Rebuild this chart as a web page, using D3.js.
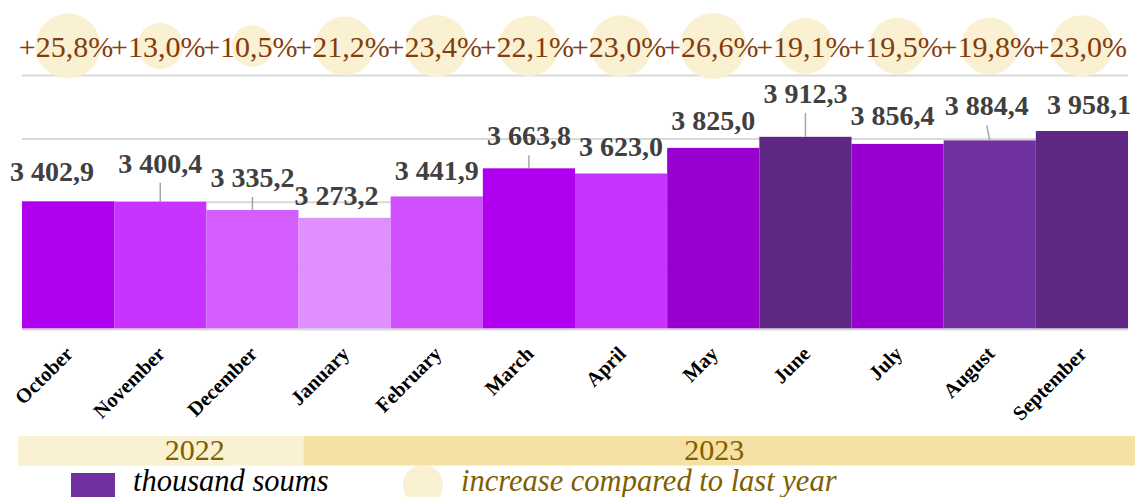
<!DOCTYPE html>
<html>
<head>
<meta charset="utf-8">
<script src="https://cdn.jsdelivr.net/npm/d3@7"></script>
<style>
  html, body { margin: 0; padding: 0; background: #ffffff; }
  svg { display: block; }
  text { font-family: "Liberation Serif", "Times New Roman", serif; }
</style>
</head>
<body>
<svg id="chart" width="1135" height="497"></svg>
<script>
// Monthly values (thousand soums), Oct 2022 – Sep 2023
const months = ["October", "November", "December", "January", "February", "March",
                "April", "May", "June", "July", "August", "September"];
const values = [3402.9, 3400.4, 3335.2, 3273.2, 3441.9, 3663.8,
                3623.0, 3825.0, 3912.3, 3856.4, 3884.4, 3958.1];
// Growth versus the same month of the previous year, %
const growth = [25.8, 13.0, 10.5, 21.2, 23.4, 22.1, 23.0, 26.6, 19.1, 19.5, 19.8, 23.0];
const gridTicks = [2400, 2900, 3400, 3900, 4400];
const yearLabels = ["2022", "2023"];
const yearFirstMonth = ["October", "January"];
const legendLabels = ["thousand soums", "increase compared to last year"];

// Styling
const barColors = ["#B000F0", "#C833FF", "#D35DFF", "#E08FFF", "#CF50FC", "#B100F0",
                   "#C833FF", "#9700CF", "#5E2784", "#9700CF", "#7030A0", "#5E2784"];
// value-label nudges: [horizontal shift, gap above bar top]
const labelOffsets = [[-16, 20], [0, 29], [0, 23], [-8, 13], [0, 16], [0, 23],
                      [0, 17], [0, 18], [0, 34], [-5, 19], [-3, 25], [7, 17]];
const yearTextShift = [34, -5];

const W = 1135, H = 497;
const plot = { left: 22, right: 1128, top: 75, bottom: 328.5 };

const locale = d3.formatLocale({ decimal: ",", thousands: "\u00a0", grouping: [3], currency: ["", ""] });
const fmtValue = locale.format(",.1f");
const fmtGrowth = locale.format("+.1f");

const svg = d3.select("#chart");

const x = d3.scaleBand().domain(months).range([plot.left, plot.right]).paddingInner(0).paddingOuter(0);
const y = d3.scaleLinear().domain([gridTicks[0], gridTicks[gridTicks.length - 1]]).range([plot.bottom, plot.top]);
const r = d3.scaleSqrt().domain([0, d3.max(growth)]).range([0, 33]);

// Horizontal gridlines
const grid = svg.append("g")
  .attr("transform", `translate(${plot.left},0)`)
  .call(d3.axisLeft(y).tickValues(gridTicks).tickSize(-(plot.right - plot.left)).tickFormat(""));
grid.select(".domain").remove();
grid.selectAll(".tick line").attr("stroke", "#D9D9D9").attr("stroke-width", 2);

// Bars
svg.append("g").selectAll("rect")
  .data(months)
  .join("rect")
  .attr("x", d => x(d))
  .attr("y", (d, i) => y(values[i]))
  .attr("width", x.bandwidth())
  .attr("height", (d, i) => y(gridTicks[0]) - y(values[i]))
  .attr("fill", (d, i) => barColors[i]);

// Baseline on top of bars
svg.append("line")
  .attr("x1", plot.left).attr("x2", plot.right)
  .attr("y1", y(gridTicks[0]) + 1).attr("y2", y(gridTicks[0]) + 1)
  .attr("stroke", "#D9D9D9").attr("stroke-width", 2);

// Value labels with leader lines where the label sits well above its bar
const vl = svg.append("g");
months.forEach((m, i) => {
  const cx = x(m) + x.bandwidth() / 2;
  const top = y(values[i]);
  const [dx, gap] = labelOffsets[i];
  const lx = cx + dx, ly = top - gap;
  if (gap > 21) {
    vl.append("line")
      .attr("x1", lx).attr("y1", ly + 10)
      .attr("x2", cx).attr("y2", top)
      .attr("stroke", "#A6A6A6").attr("stroke-width", 1.5);
  }
  vl.append("text")
    .attr("x", lx).attr("y", ly)
    .attr("text-anchor", "middle")
    .attr("font-size", 28).attr("font-weight", "bold")
    .attr("fill", "#404040")
    .text(fmtValue(values[i]));
});

// Growth bubbles and labels across the top
const bubbleY = 46;
svg.append("g").selectAll("circle")
  .data(growth)
  .join("circle")
  .attr("cx", (d, i) => x(months[i]) + x.bandwidth() / 2)
  .attr("cy", bubbleY)
  .attr("r", d => r(d))
  .attr("fill", "#FAF0D2");

svg.append("g").selectAll("text")
  .data(growth)
  .join("text")
  .attr("x", (d, i) => x(months[i]) + x.bandwidth() / 2 - 2)
  .attr("y", 56.5)
  .attr("text-anchor", "middle")
  .attr("font-size", 30)
  .attr("fill", "#843C0C")
  .text(d => fmtGrowth(d) + "%");

// Rotated month labels
svg.append("g").selectAll("text")
  .data(months)
  .join("text")
  .attr("transform", d => `translate(${x(d) + x.bandwidth() / 2 + 6},${355}) rotate(-45)`)
  .attr("text-anchor", "end")
  .attr("font-size", 20.5).attr("font-weight", "bold")
  .attr("fill", "#000000")
  .text(d => d);

// Year bands
const bandTop = 436, bandH = 29.5;
const yearStartX = yearFirstMonth.map((m, i) => i === 0 ? x(m) - 4 : x(m) + 5);
const yearEndX = yearStartX.slice(1).concat([W]);
const bandColors = ["#FAF0D2", "#F5E1A4"];
yearLabels.forEach((yl, i) => {
  svg.append("rect")
    .attr("x", yearStartX[i]).attr("y", bandTop)
    .attr("width", yearEndX[i] - yearStartX[i]).attr("height", bandH)
    .attr("fill", bandColors[i]);
  svg.append("text")
    .attr("x", (yearStartX[i] + yearEndX[i]) / 2 + yearTextShift[i])
    .attr("y", 460)
    .attr("text-anchor", "middle")
    .attr("font-size", 30)
    .attr("fill", "#7F6000")
    .text(yl);
});

// Legend
const lg = svg.append("g");
lg.append("rect").attr("x", 71).attr("y", 473).attr("width", 44).attr("height", 30).attr("fill", "#7030A0");
lg.append("text").attr("x", 133).attr("y", 491)
  .attr("font-size", 30.5).attr("font-style", "italic").attr("fill", "#000000")
  .text(legendLabels[0]);
lg.append("circle").attr("cx", 423).attr("cy", 485).attr("r", 20).attr("fill", "#FAF0D2");
lg.append("text").attr("x", 461).attr("y", 491)
  .attr("font-size", 30.5).attr("font-style", "italic").attr("fill", "#7F6000")
  .text(legendLabels[1]);
</script>
</body>
</html>
